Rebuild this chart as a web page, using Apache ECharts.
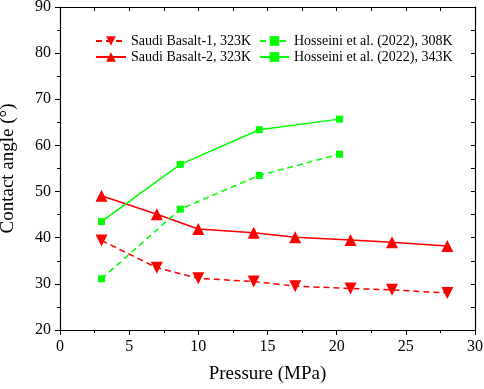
<!DOCTYPE html>
<html><head><meta charset="utf-8">
<script src="https://cdn.jsdelivr.net/npm/echarts@6/dist/echarts.min.js"></script>
<style>html,body{margin:0;padding:0;background:#fff}#c{width:484px;height:389px}</style>
</head><body><div id="c"></div>
<script>
const basalt1X = [3, 7, 10, 14, 17, 21, 24, 28];
const basalt1Y = [39.4, 33.5, 31.2, 30.5, 29.5, 29.0, 28.7, 28.0];
const basalt2X = [3, 7, 10, 14, 17, 21, 24, 28];
const basalt2Y = [49.1, 45.1, 41.9, 41.1, 40.1, 39.5, 39.0, 38.2];
const hos308X = [3, 8.7, 14.4, 20.2];
const hos308Y = [31.1, 46.2, 53.5, 58.1];
const hos343X = [3, 8.7, 14.4, 20.2];
const hos343Y = [43.5, 55.9, 63.4, 65.7];
const names = ['Saudi Basalt-1, 323K', 'Saudi Basalt-2, 323K', 'Hosseini et al. (2022), 308K', 'Hosseini et al. (2022), 343K'];

const zip = (xs, ys) => xs.map((x, i) => [x, ys[i]]);
const FONT = 'Liberation Serif, Times New Roman, serif';
const RED = '#ff0000', GREEN = '#00ff00';

const chart = echarts.init(document.getElementById('c'), null, {renderer: 'canvas'});
const legendText = {fontFamily: FONT, fontSize: 14, color: '#000'};
chart.setOption({
  animation: false,
  backgroundColor: '#fff',
  grid: {left: 60, right: 9, top: 7, bottom: 59, containLabel: false, outerBoundsMode: 'none'},
  legend: [
    {data: [names[0], names[1]], orient: 'vertical', left: 90, top: 29, itemWidth: 30, itemHeight: 12, itemGap: 2,
     textStyle: legendText},
    {data: [names[2], names[3]], orient: 'vertical', left: 254, top: 29, itemWidth: 29, itemHeight: 12, itemGap: 2,
     textStyle: legendText}
  ],
  xAxis: [
    {type: 'value', min: 0, max: 30, interval: 5, position: 'bottom',
     name: 'Pressure (MPa)', nameLocation: 'middle', nameGap: 35,
     nameTextStyle: {fontFamily: FONT, fontSize: 19, color: '#000'},
     axisLine: {show: true, onZero: false, lineStyle: {color: '#000', width: 1.2}},
     axisTick: {show: true, inside: false, length: 5, lineStyle: {color: '#000'}},
     minorTick: {show: true, splitNumber: 2, length: 3, lineStyle: {color: '#000'}},
     axisLabel: {fontFamily: FONT, fontSize: 16, color: '#000', margin: 9},
     splitLine: {show: false}},
    {type: 'value', min: 0, max: 30, interval: 2.5, position: 'top',
     axisLine: {show: true, onZero: false, lineStyle: {color: '#000', width: 1.2}},
     axisTick: {show: true, inside: true, length: 4, lineStyle: {color: '#000'}},
     axisLabel: {show: false}, splitLine: {show: false}}
  ],
  yAxis: [
    {type: 'value', min: 20, max: 90, interval: 10, position: 'left',
     name: 'Contact angle (°)', nameLocation: 'middle', nameGap: 42,
     nameTextStyle: {fontFamily: FONT, fontSize: 19, color: '#000'},
     axisLine: {show: true, onZero: false, lineStyle: {color: '#000', width: 1.2}},
     axisTick: {show: true, inside: false, length: 5, lineStyle: {color: '#000'}},
     minorTick: {show: true, splitNumber: 2, length: 3, lineStyle: {color: '#000'}},
     axisLabel: {fontFamily: FONT, fontSize: 16, color: '#000', margin: 9},
     splitLine: {show: false}},
    {type: 'value', min: 20, max: 90, interval: 5, position: 'right',
     axisLine: {show: true, onZero: false, lineStyle: {color: '#000', width: 1.2}},
     axisTick: {show: true, inside: true, length: 4, lineStyle: {color: '#000'}},
     axisLabel: {show: false}, splitLine: {show: false}}
  ],
  series: [
    {name: names[0], type: 'line', data: zip(basalt1X, basalt1Y), symbol: 'triangle', symbolRotate: 180, symbolSize: 12,
     itemStyle: {color: RED}, lineStyle: {color: RED, width: 1.5, type: [6, 4]}},
    {name: names[1], type: 'line', data: zip(basalt2X, basalt2Y), symbol: 'triangle', symbolSize: 12,
     itemStyle: {color: RED}, lineStyle: {color: RED, width: 1.5}},
    {name: names[2], type: 'line', data: zip(hos308X, hos308Y), symbol: 'rect', symbolSize: 7,
     itemStyle: {color: GREEN}, lineStyle: {color: GREEN, width: 1.5, type: [6, 4]}},
    {name: names[3], type: 'line', data: zip(hos343X, hos343Y), symbol: 'rect', symbolSize: 7,
     itemStyle: {color: GREEN}, lineStyle: {color: GREEN, width: 1.5}}
  ]
});
</script></body></html>
